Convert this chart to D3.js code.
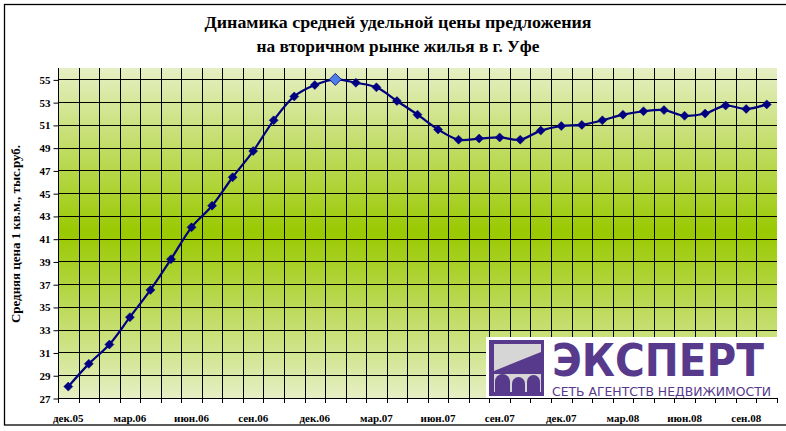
<!DOCTYPE html>
<html><head><meta charset="utf-8">
<script src="https://cdn.jsdelivr.net/npm/d3@7"></script>
<style>
html,body{margin:0;padding:0;background:#fff;}
svg{display:block;}
</style></head>
<body>
<svg id="chart" width="786" height="431"></svg>
<script>
// ---- data ----
const titleLines = ["Динамика средней удельной цены предложения", "на вторичном рынке жилья в г. Уфе"];
const yAxisTitle = "Средняя цена 1 кв.м., тыс.руб.";
const months = [
  "дек.05",
  "янв.06","фев.06","мар.06","апр.06","май.06","июн.06","июл.06","авг.06","сен.06","окт.06","ноя.06","дек.06",
  "янв.07","фев.07","мар.07","апр.07","май.07","июн.07","июл.07","авг.07","сен.07","окт.07","ноя.07","дек.07",
  "янв.08","фев.08","мар.08","апр.08","май.08","июн.08","июл.08","авг.08","сен.08","окт.08"
];
const prices = [
  28.0,
  30.0, 31.7, 34.1, 36.5, 39.2, 42.0, 43.9, 46.4, 48.7, 51.4, 53.5, 54.5,
  55.0, 54.7, 54.3, 53.1, 51.9, 50.6, 49.7, 49.8, 49.9, 49.7, 50.5, 50.9,
  51.0, 51.4, 51.9, 52.2, 52.3, 51.8, 52.0, 52.7, 52.4, 52.8
];
const highlightMonth = "янв.07";
const xTickLabels = ["дек.05","мар.06","июн.06","сен.06","дек.06","мар.07","июн.07","сен.07","дек.07","мар.08","июн.08","сен.08"];
const yTicks = [27,29,31,33,35,37,39,41,43,45,47,49,51,53,55];
const yDomain = [27, 56];
const logoWord = "ЭКСПЕРТ";
const logoSub = "СЕТЬ АГЕНТСТВ НЕДВИЖИМОСТИ";

// ---- layout ----
const W = 786, H = 431;
const m = {left: 58, top: 68, right: 9, bottom: 33};
const svg = d3.select("#chart");
const serif = "'Liberation Serif','Times New Roman',serif";
const navy = "#000080";
const purple = "#573a8c";

const x = d3.scaleBand().domain(months).range([m.left, W - m.right]).paddingInner(0).paddingOuter(0);
const y = d3.scaleLinear().domain(yDomain).range([H - m.bottom, m.top]);

// chart border
svg.append("rect").attr("x", 4.5).attr("y", 4.5).attr("width", W + 10).attr("height", H - 6 - 4.5)
  .attr("fill", "#fff").attr("stroke", "#000").attr("stroke-width", 1.3);

// gradient
const defs = svg.append("defs");
const grad = defs.append("linearGradient").attr("id", "bg").attr("x1", 0).attr("y1", 0).attr("x2", 0).attr("y2", 1);
grad.append("stop").attr("offset", "0%").attr("stop-color", "#e6efc4");
grad.append("stop").attr("offset", "50%").attr("stop-color", "#99c900");
grad.append("stop").attr("offset", "100%").attr("stop-color", "#e6efc4");

const [x0, x1] = x.range();
const [yb, yt] = y.range();
svg.append("rect").attr("x", x0).attr("y", yt).attr("width", x1 - x0).attr("height", yb - yt).attr("fill", "url(#bg)");

// horizontal grid
svg.append("g").selectAll("line").data(yTicks.filter(v => v !== yDomain[0])).join("line")
  .attr("x1", x0).attr("x2", x1).attr("y1", d => Math.round(y(d)) + 0.5).attr("y2", d => Math.round(y(d)) + 0.5)
  .attr("stroke", "#000").attr("stroke-width", 1);

// vertical grid at category boundaries
const boundaries = months.slice(1).map(d => x(d));
svg.append("g").selectAll("line").data(boundaries).join("line")
  .attr("x1", d => Math.round(d) + 0.5).attr("x2", d => Math.round(d) + 0.5).attr("y1", yt).attr("y2", yb)
  .attr("stroke", "#000").attr("stroke-width", 1);

// logo (white panel bottom right)
const lg = svg.append("g");
const lx = x1 - 288, ly = yb - 58;
lg.append("rect").attr("x", lx - 3).attr("y", ly - 3).attr("width", 291).attr("height", 61).attr("fill", "#fff");
// icon
lg.append("rect").attr("x", lx).attr("y", ly).attr("width", 55).attr("height", 56).attr("fill", purple);
lg.append("polygon").attr("points", [[lx+5,ly+4],[lx+52,ly+4],[lx+52,ly+12],[lx+5,ly+31]].map(p=>p.join(",")).join(" ")).attr("fill", "#d6d6d6");
lg.append("rect").attr("x", lx + 5).attr("y", ly + 34).attr("width", 47).attr("height", 18).attr("fill", "#d6d6d6");
const arches = [[lx+6, 15, ly+34], [lx+23, 13, ly+37], [lx+38, 13, ly+35]];
lg.selectAll("path.arch").data(arches).join("path").attr("class","arch")
  .attr("d", ([ax, aw, at]) => {
    const r = aw / 2, bot = ly + 53;
    return `M${ax},${bot}L${ax},${at + r}A${r},${r} 0 0 1 ${ax + aw},${at + r}L${ax + aw},${bot}Z`;
  }).attr("fill", purple);
lg.append("text").attr("x", lx + 63).attr("y", ly + 36).text(logoWord)
  .attr("font-family", "'DejaVu Sans',sans-serif").attr("font-weight", "bold").attr("font-size", 44)
  .attr("textLength", 212).attr("lengthAdjust", "spacingAndGlyphs").attr("fill", purple);
lg.append("text").attr("x", lx + 63).attr("y", ly + 56).text(logoSub)
  .attr("font-family", "'DejaVu Sans',sans-serif").attr("font-size", 12)
  .attr("textLength", 219).attr("lengthAdjust", "spacingAndGlyphs").attr("fill", purple);

// axes
// y axis line and ticks
svg.append("line").attr("x1", x0 + 0.5).attr("x2", x0 + 0.5).attr("y1", yt).attr("y2", yb).attr("stroke", "#000");
const yAxis = d3.axisLeft(y).tickValues(yTicks).tickSize(5).tickPadding(3).tickFormat(d3.format("d"));
const gy = svg.append("g").attr("transform", `translate(${x0 + 0.5},0.5)`).call(yAxis);
gy.select(".domain").remove();
gy.selectAll("text").attr("font-family", serif).attr("font-weight", "bold").attr("font-size", 11).attr("fill", "#000");

// x axis
svg.append("line").attr("x1", x0).attr("x2", x1).attr("y1", Math.round(yb) + 0.5).attr("y2", Math.round(yb) + 0.5).attr("stroke", "#000");
svg.append("g").selectAll("line").data(months.map(d => x(d)).concat([x1])).join("line")
  .attr("x1", d => Math.round(d) + 0.5).attr("x2", d => Math.round(d) + 0.5).attr("y1", yb).attr("y2", yb + 5)
  .attr("stroke", "#000");
const xAxis = d3.axisBottom(x).tickValues(xTickLabels).tickSize(0).tickPadding(16);
const gx = svg.append("g").attr("transform", `translate(0,${yb})`).call(xAxis);
gx.select(".domain").remove();
gx.selectAll("text").attr("font-family", serif).attr("font-weight", "bold").attr("font-size", 11).attr("fill", "#000");

// series line
const pts = months.map((d, i) => [x(d) + x.bandwidth() / 2, y(prices[i])]);
svg.append("path").attr("d", d3.line().curve(d3.curveCatmullRom.alpha(0.5))(pts))
  .attr("fill", "none").attr("stroke", navy).attr("stroke-width", 2.2);
const diamond = s => `M0,${-s}L${s},0L0,${s}L${-s},0Z`;
svg.append("g").selectAll("path").data(months).join("path")
  .attr("transform", (d, i) => `translate(${pts[i][0]},${pts[i][1]})`)
  .attr("d", d => diamond(d === highlightMonth ? 6 : 4.5))
  .attr("fill", d => d === highlightMonth ? "#4d7fe6" : navy)
  .attr("stroke", navy).attr("stroke-width", d => d === highlightMonth ? 0.8 : 0.5);

// titles
svg.append("g").selectAll("text").data(titleLines).join("text")
  .attr("x", 398).attr("y", (d, i) => 28 + i * 24)
  .attr("text-anchor", "middle").attr("font-family", serif).attr("font-weight", "bold").attr("font-size", 17)
  .attr("textLength", (d, i) => i === 0 ? 387 : 283).attr("lengthAdjust", "spacingAndGlyphs")
  .text(d => d);

svg.append("text").attr("transform", `translate(20,${(yt + yb) / 2 + 1}) rotate(-90)`)
  .attr("text-anchor", "middle").attr("font-family", serif).attr("font-weight", "bold").attr("font-size", 12)
  .attr("textLength", 178).attr("lengthAdjust", "spacingAndGlyphs")
  .text(yAxisTitle);
</script>
</body></html>
